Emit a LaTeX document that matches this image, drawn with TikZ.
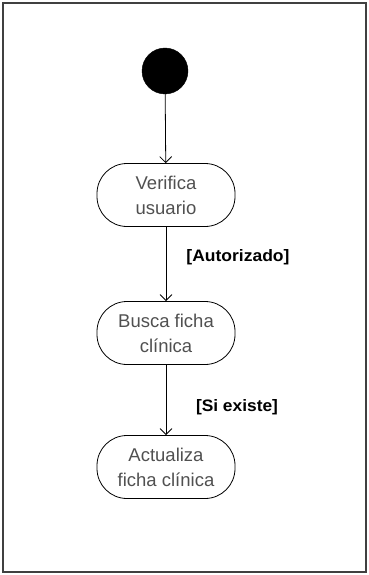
\documentclass[tikz,border=0pt]{standalone}
\usepackage{fontspec}
\setmainfont{Liberation Sans}
\usetikzlibrary{arrows.meta}
\definecolor{actext}{HTML}{505050}
\definecolor{framegray}{HTML}{404040}
\begin{document}
\begin{tikzpicture}[x=1pt,y=-1pt,
  activity/.style={draw=black, line width=0.8pt, rectangle, rounded corners=30pt,
    minimum width=138pt, minimum height=63pt, align=center,
    font=\fontsize{18.5}{25}\selectfont, text=actext, inner sep=0pt},
  startnode/.style={circle, fill=black, draw=black, minimum size=46pt, inner sep=0pt},
  flow/.style={draw=black, line width=0.8pt, -{Straight Barb[length=6pt,width=12pt]}},
  guard/.style={font=\bfseries\fontsize{14}{16}\selectfont, inner sep=0pt}
]
\useasboundingbox (0,0) rectangle (369,575);
% frame
\draw[framegray, line width=1.6pt] (3,3) rectangle (366,572);

% nodes
\node[startnode] (start) at (165,71) {};
\node[activity] (verif) at (166,195) {Verifica\\usuario};
\node[activity] (busca) at (166,333) {Busca ficha\\clínica};
\node[activity] (actual) at (166,467) {Actualiza\\ficha clínica};

% transitions
\draw[flow] (start) -- (verif);
\draw[flow] (verif) -- (busca);
\draw[flow] (busca) -- (actual);

% guards
\node[guard] (g1) at (238,257) {\resizebox{103pt}{12pt}{[Autorizado]}};
\node[guard] (g2) at (237,407) {\resizebox{82pt}{12pt}{[Si existe]}};
\end{tikzpicture}
\end{document}
